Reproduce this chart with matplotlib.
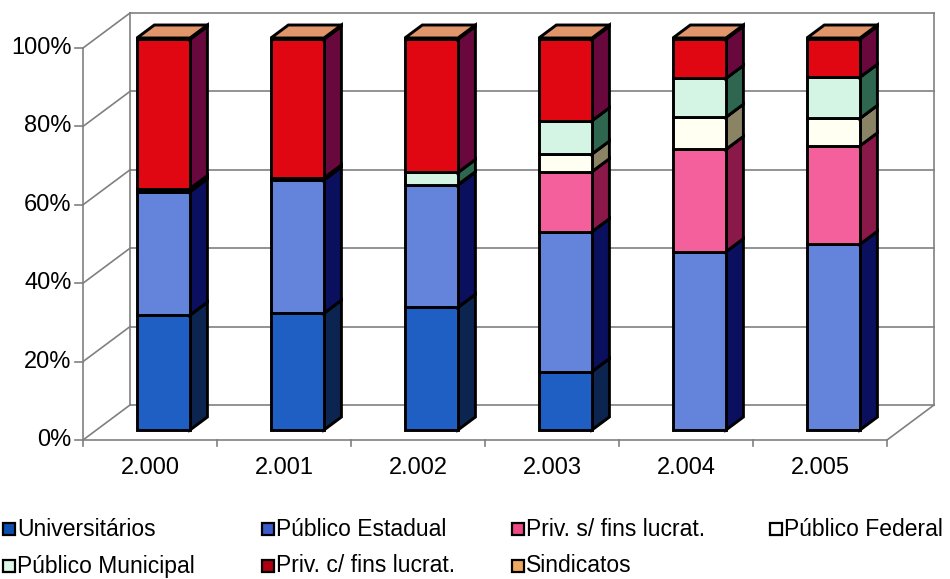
import matplotlib.pyplot as plt
from matplotlib.patches import Polygon

plt.rcParams['font.family'] = ['Liberation Sans', 'DejaVu Sans']

anos = ['2.000', '2.001', '2.002', '2.003', '2.004', '2.005']
series = ['Universitários', 'Público Estadual', 'Priv. s/ fins lucrat.',
          'Público Federal', 'Público Municipal', 'Priv. c/ fins lucrat.',
          'Sindicatos']

# participação (%) de cada tipo de instituição por ano
universitarios = [29.3, 29.8, 31.3, 14.9, 0.0, 0.0]
publico_estadual = [31.5, 34.0, 31.2, 35.7, 45.5, 47.4]
priv_sem_fins = [0.0, 0.0, 0.0, 15.3, 26.1, 25.1]
publico_federal = [0.3, 0.1, 0.1, 4.5, 8.2, 7.0]
publico_municipal = [0.5, 0.4, 3.1, 8.5, 9.9, 10.5]
priv_com_fins = [38.1, 35.4, 34.0, 20.8, 10.0, 9.7]
sindicatos = [0.3, 0.3, 0.3, 0.3, 0.3, 0.3]

valores = [universitarios, publico_estadual, priv_sem_fins, publico_federal,
           publico_municipal, priv_com_fins, sindicatos]

cor_frente = ['#1f5fc4', '#6484dc', '#f3609c', '#fffff2', '#d4f4e4', '#e00712', '#e8a070']
cor_lado = ['#0b2550', '#0a0f5e', '#8a1848', '#8a8464', '#2e6650', '#68083c', '#8a4a20']
cor_topo = ['#4a80e0', '#90a8f0', '#f890c0', '#ffffff', '#e8fff4', '#f04050', '#e0956a']
cor_legenda = ['#0d4fb0', '#3c5ccc', '#ef4a86', '#ffffff', '#dcf6e8', '#b00010', '#f0a860']

# conversão pixel -> coordenadas do gráfico (categoria, %)
def px2x(px):
    return (px - 83) / 134 - 0.5

def px2y(py):
    return (440 - py) / 3.92

DX = 47 / 134    # profundidade total em x (categorias)
DY = 35 / 3.92   # profundidade total em y (%)
f0, f1 = 0.286, 0.657   # planos frontal e traseiro das barras
largura = 0.396

fig = plt.figure(figsize=(9.5, 5.79), dpi=100)
ax = fig.add_axes([0, 0, 1, 1])
ax.set_xlim(px2x(0), px2x(950))
ax.set_ylim(px2y(579), px2y(0))
ax.axis('off')

n = len(anos)
x0, x1 = -0.5, n - 0.5
grid_kw = dict(color='#808080', lw=1.2, zorder=1)

# paredes: fundo e lateral com grade
for v in range(0, 101, 20):
    ax.plot([x0 + DX, x1 + DX], [v + DY, v + DY], **grid_kw)
    ax.plot([x0, x0 + DX], [v, v + DY], **grid_kw)
    ax.plot([x0 - 0.06, x0], [v, v], **grid_kw)
    ax.text(x0 - 0.085, v, f'{v}%', ha='right', va='center', fontsize=17)
ax.plot([x0 + DX, x0 + DX], [DY, 100 + DY], **grid_kw)
ax.plot([x1 + DX, x1 + DX], [DY, 100 + DY], **grid_kw)
ax.plot([x0, x0], [0, 100], **grid_kw)
ax.plot([x0, x1], [0, 0], **grid_kw)
ax.plot([x1, x1 + DX], [0, DY], **grid_kw)
for i in range(n + 1):
    ax.plot([x0 + i, x0 + i], [0, -1.6], **grid_kw)
for i, ano in enumerate(anos):
    ax.text(i, -7.2, ano, ha='center', va='center', fontsize=17)

# barras empilhadas em perspectiva
dd = f1 - f0
for i in range(n):
    total = sum(s[i] for s in valores)
    base = 0.0
    xa = i - largura / 2 + f0 * DX
    xb = xa + largura
    for k, s in enumerate(valores):
        h = s[i] / total * 100
        if h <= 0:
            continue
        ya = base + f0 * DY
        yb = ya + h
        kw = dict(ec='black', lw=2.1, joinstyle='miter', zorder=3)
        ax.add_patch(Polygon([(xb, ya), (xb + dd * DX, ya + dd * DY),
                              (xb + dd * DX, yb + dd * DY), (xb, yb)],
                             fc=cor_lado[k], **kw))
        ax.add_patch(Polygon([(xa, ya), (xb, ya), (xb, yb), (xa, yb)],
                             fc=cor_frente[k], **kw))
        ax.add_patch(Polygon([(xa, yb), (xb, yb), (xb + dd * DX, yb + dd * DY),
                              (xa + dd * DX, yb + dd * DY)],
                             fc=cor_topo[k], **kw))
        base += h

# legenda em duas linhas
pos_legenda = [(9, 529), (268, 529), (518, 529), (776, 529),
               (9, 566), (268, 566), (518, 566)]
for k, nome in enumerate(series):
    px, py = pos_legenda[k]
    ax.plot([px2x(px)], [px2y(py)], marker='s', ms=9, mfc=cor_legenda[k],
            mec='black', mew=1.6, ls='none')
    ax.text(px2x(px + 8), px2y(py), nome, ha='left', va='center', fontsize=16.5)

fig.savefig('out.png', dpi=100)
